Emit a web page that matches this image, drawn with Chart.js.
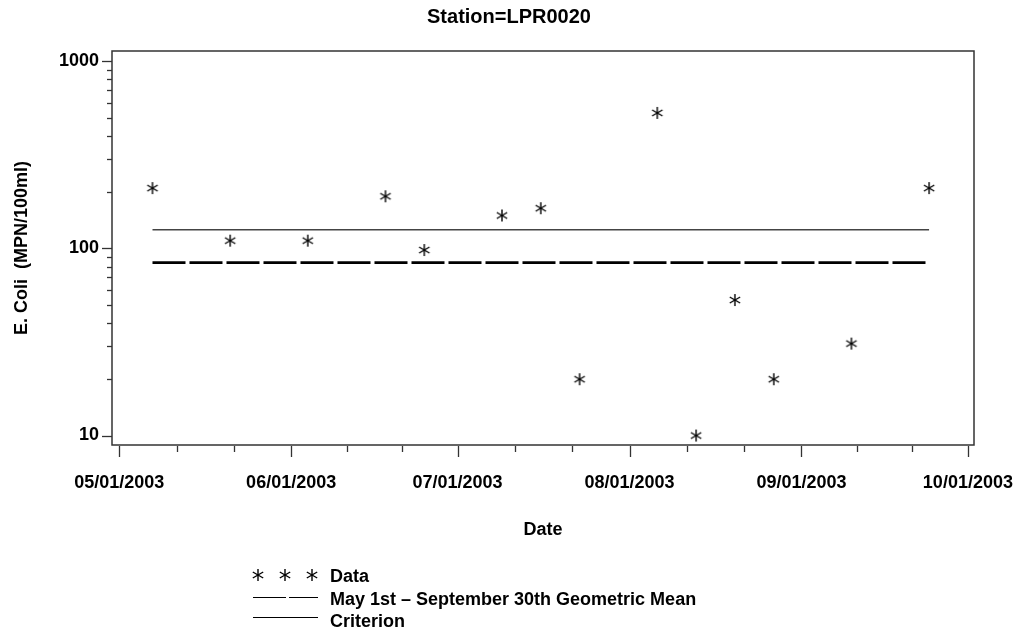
<!DOCTYPE html>
<html>
<head>
<meta charset="utf-8">
<script src="https://cdn.jsdelivr.net/npm/chart.js@4.4.1/dist/chart.umd.min.js"></script>
<style>
  body { margin: 0; background: #fff; }
  #wrap { width: 1018px; height: 639px; }
</style>
</head>
<body>
<div id="wrap"><canvas id="myChart" width="1018" height="639"></canvas></div>
<script>
// sample dates and E. coli values (MPN/100ml)
const dates = ['2003-05-07', '2003-05-21', '2003-06-04', '2003-06-18', '2003-06-25', '2003-07-09', '2003-07-16',
               '2003-07-23', '2003-08-06', '2003-08-13', '2003-08-20', '2003-08-27', '2003-09-10', '2003-09-24'];
const ecoli = [210, 110, 110, 190, 98, 150, 164, 20, 530, 10, 53, 20, 31, 210];
const geoMean = [84, 84];     // May 1st - September 30th geometric mean
const criterion = [126, 126];
const xTickLabels = ['05/01/2003', '06/01/2003', '07/01/2003', '08/01/2003', '09/01/2003', '10/01/2003'];
const yTickLabels = [10, 100, 1000];

const FONT = '"Liberation Sans", Arial, sans-serif';

function dayNum(s) { // 'YYYY-MM-DD'
  let p = s.split('-');
  return Date.UTC(+p[0], +p[1] - 1, +p[2]) / 864e5;
}
function labelDay(s) { // 'MM/DD/YYYY'
  let p = s.split('/');
  return Date.UTC(+p[2], +p[0] - 1, +p[1]) / 864e5;
}

// asterisk marker
function makeStar() {
  let c = document.createElement('canvas');
  c.width = 14; c.height = 14;
  let g = c.getContext('2d');
  g.strokeStyle = '#000';
  g.lineWidth = 1.4;
  let r = 6;
  [90, 30, -30].forEach(function (deg) {
    let a = deg * Math.PI / 180;
    g.beginPath();
    g.moveTo(7 - r * Math.cos(a), 7 - r * Math.sin(a));
    g.lineTo(7 + r * Math.cos(a), 7 + r * Math.sin(a));
    g.stroke();
  });
  return c;
}
const star = makeStar();

const dataPts = dates.map((d, i) => ({ x: dayNum(d), y: ecoli[i] }));
const first = dayNum(dates[0]), last = dayNum(dates[dates.length - 1]);

const boxPlugin = {
  id: 'boxAndLegend',
  afterDraw(chart) {
    const ctx = chart.ctx, a = chart.chartArea;
    ctx.save();
    ctx.strokeStyle = '#333';
    ctx.lineWidth = 1.5;
    ctx.strokeRect(a.left, a.top, a.right - a.left, a.bottom - a.top);

    ctx.lineWidth = 1.3;
    const xs = chart.scales.x;
    xs.ticks.forEach(t => {
      let px = Math.round(xs.getPixelForValue(t.value)) + 0.5;
      let len = t.isMajor ? 12 : 7;
      ctx.beginPath(); ctx.moveTo(px, a.bottom + 1); ctx.lineTo(px, a.bottom + len); ctx.stroke();
    });
    const ys = chart.scales.y;
    ys.ticks.forEach(t => {
      let py = Math.round(ys.getPixelForValue(t.value)) + 0.5;
      let len = t.isMajor ? 10 : 5;
      ctx.beginPath(); ctx.moveTo(a.left - len, py); ctx.lineTo(a.left, py); ctx.stroke();
    });

    // legend
    ctx.fillStyle = '#000';
    ctx.font = 'bold 18px ' + FONT;
    ctx.textBaseline = 'middle';
    ctx.textAlign = 'left';
    [258, 285, 312].forEach(x => ctx.drawImage(star, x - 7, 575 - 7));
    ctx.fillText('Data', 330, 577);

    ctx.strokeStyle = '#000';
    ctx.lineWidth = 1;
    ctx.beginPath();
    ctx.moveTo(253, 597.5); ctx.lineTo(286, 597.5);
    ctx.moveTo(289, 597.5); ctx.lineTo(318, 597.5);
    ctx.stroke();
    ctx.fillText('May 1st \u2013 September 30th Geometric Mean', 330, 600);

    ctx.beginPath();
    ctx.moveTo(253, 617.5); ctx.lineTo(318, 617.5);
    ctx.stroke();
    ctx.fillText('Criterion', 330, 622);
    ctx.restore();
  }
};

Chart.defaults.color = '#000';
Chart.defaults.font.family = FONT;

new Chart(document.getElementById('myChart').getContext('2d'), {
  type: 'scatter',
  data: {
    datasets: [
      {
        label: 'Data',
        data: dataPts,
        pointStyle: star,
        pointRadius: 7,
        showLine: false
      },
      {
        label: 'May 1st - September 30th Geometric Mean',
        data: [{ x: first, y: geoMean[0] }, { x: last, y: geoMean[1] }],
        showLine: true,
        borderColor: '#000',
        borderWidth: 2.6,
        borderDash: [33, 4],
        pointRadius: 0
      },
      {
        label: 'Criterion',
        data: [{ x: first, y: criterion[0] }, { x: last, y: criterion[1] }],
        showLine: true,
        borderColor: '#444',
        borderWidth: 1.5,
        pointRadius: 0
      }
    ]
  },
  options: {
    responsive: false,
    animation: false,
    layout: { padding: { left: 0, right: 0, top: 0, bottom: 94 } },
    plugins: {
      legend: { display: false },
      tooltip: { enabled: false },
      title: {
        display: true,
        text: 'Station=LPR0020',
        font: { size: 20, weight: 'bold' },
        padding: { top: 5, bottom: 22 }
      }
    },
    scales: {
      x: {
        type: 'linear',
        min: labelDay(xTickLabels[0]) - 1.3,
        max: labelDay(xTickLabels[xTickLabels.length - 1]) + 1.1,
        bounds: 'data',
        grid: { display: false, drawTicks: true, tickLength: 12 },
        border: { display: false },
        ticks: {
          autoSkip: false,
          maxRotation: 0,
          padding: 15,
          font: { size: 18, weight: 'bold' },
          callback: (v, i, ticks) => ticks[i].lbl || ''
        },
        afterBuildTicks: scale => {
          let t = [];
          xTickLabels.forEach((l, i) => {
            let d = labelDay(l);
            t.push({ value: d, lbl: l, isMajor: true });
            if (i < xTickLabels.length - 1) {
              let step = (labelDay(xTickLabels[i + 1]) - d) / 3;
              t.push({ value: d + step, isMajor: false });
              t.push({ value: d + 2 * step, isMajor: false });
            }
          });
          scale.ticks = t;
        },
        afterFit: scale => {
          scale.height = 100;
          scale.paddingLeft = 0;
          scale.paddingRight = 0;
        },
        title: {
          display: true,
          text: 'Date',
          font: { size: 18, weight: 'bold' },
          padding: { top: 0, bottom: 4 }
        }
      },
      y: {
        type: 'logarithmic',
        min: 8.9,
        max: 1135,
        bounds: 'data',
        grid: { display: false, drawTicks: true, tickLength: 10 },
        border: { display: false },
        ticks: {
          autoSkip: false,
          padding: 3,
          font: { size: 18, weight: 'bold' },
          callback: (v, i, ticks) => ticks[i].isMajor ? String(v) : ''
        },
        afterBuildTicks: scale => {
          let t = [];
          yTickLabels.forEach((v, i) => {
            t.push({ value: v, isMajor: true });
            if (i < yTickLabels.length - 1) {
              for (let k = 2; k <= 9; k++) t.push({ value: k * v, isMajor: false });
            }
          });
          scale.ticks = t;
        },
        afterFit: scale => {
          scale.width = 112;
          scale.paddingTop = 0;
          scale.paddingBottom = 0;
        },
        title: {
          display: true,
          text: 'E. Coli  (MPN/100ml)',
          font: { size: 18, weight: 'bold' },
          padding: { top: 11, bottom: 0 }
        }
      },
      yr: {
        type: 'linear',
        position: 'right',
        display: true,
        grid: { display: false, drawTicks: false },
        border: { display: false },
        ticks: { display: false },
        afterFit: scale => { scale.width = 44; }
      }
    }
  },
  plugins: [boxPlugin]
});
</script>
</body>
</html>
